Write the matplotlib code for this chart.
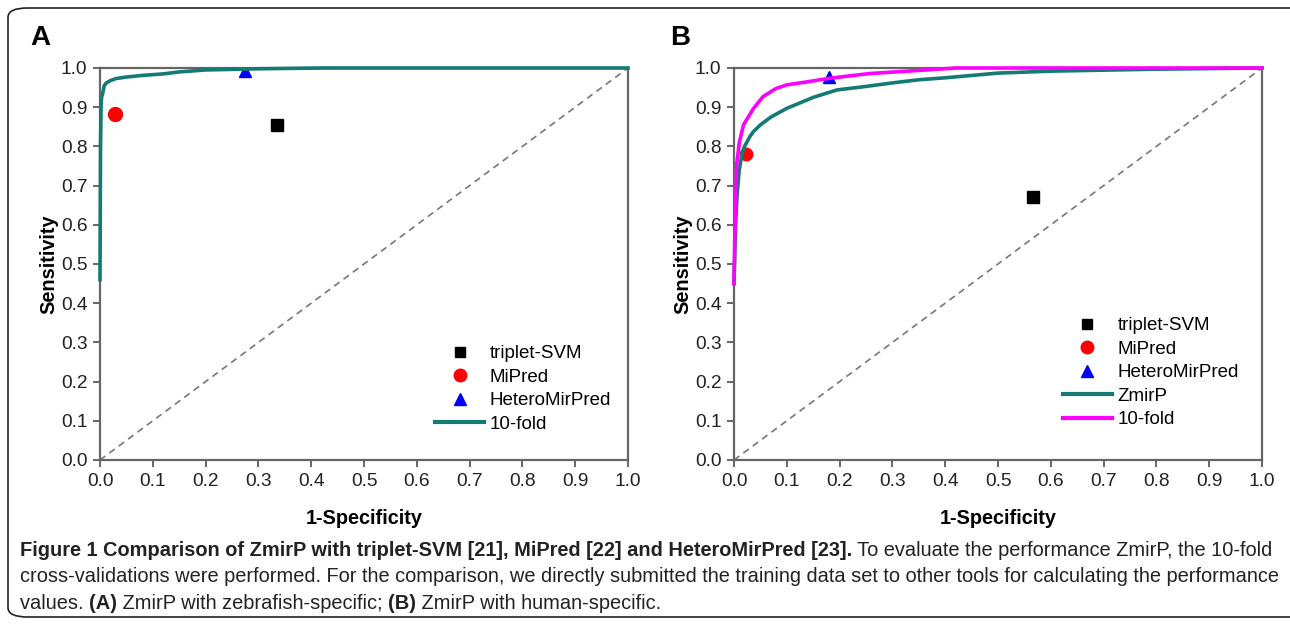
import numpy as np
import matplotlib.pyplot as plt
from matplotlib.patches import FancyBboxPatch
from matplotlib.lines import Line2D
from matplotlib.text import Annotation

plt.rcParams['font.family'] = ['Liberation Sans', 'DejaVu Sans']

# ---- данные ----
ticks = [0.0, 0.1, 0.2, 0.3, 0.4, 0.5, 0.6, 0.7, 0.8, 0.9, 1.0]
tick_labels = ['0.0', '0.1', '0.2', '0.3', '0.4', '0.5', '0.6', '0.7', '0.8', '0.9', '1.0']

# панель A (zebrafish)
a_fold_x = [0.0, 0.001, 0.002, 0.003, 0.005, 0.008, 0.012, 0.02, 0.03, 0.05, 0.08,
            0.12, 0.15, 0.2, 0.3, 0.42, 1.0]
a_fold_y = [0.46, 0.80, 0.90, 0.925, 0.935, 0.955, 0.962, 0.968, 0.973, 0.977, 0.981,
            0.985, 0.99, 0.995, 0.998, 1.0, 1.0]
a_svm = (0.335, 0.855)
a_mipred = (0.028, 0.883)
a_hetero = (0.275, 0.993)

# панель B (human)
b_zmirp_x = [0.0, 0.003, 0.006, 0.01, 0.015, 0.02, 0.03, 0.037, 0.05, 0.07, 0.1, 0.15,
             0.195, 0.25, 0.3, 0.35, 0.4, 0.5, 0.6, 0.8, 1.0]
b_zmirp_y = [0.45, 0.60, 0.68, 0.74, 0.78, 0.80, 0.825, 0.838, 0.855, 0.875, 0.897, 0.925,
             0.944, 0.953, 0.962, 0.97, 0.975, 0.987, 0.992, 0.997, 1.0]
b_fold_x = [0.0, 0.002, 0.005, 0.01, 0.018, 0.037, 0.055, 0.08, 0.1, 0.14, 0.182, 0.258,
            0.352, 0.42, 1.0]
b_fold_y = [0.45, 0.60, 0.753, 0.81, 0.855, 0.897, 0.927, 0.948, 0.957, 0.965, 0.974, 0.986,
            0.994, 1.0, 1.0]
b_svm = (0.567, 0.672)
b_mipred = (0.022, 0.78)
b_hetero = (0.18, 0.978)

TEAL = '#137a75'
MAGENTA = '#ff00ff'
GRAY = '#666666'
FS = 13.8

fig = plt.figure(figsize=(12.9, 6.25), dpi=100)

# рамка вокруг всего рисунка
fig.patches.append(FancyBboxPatch((8 / 1290, 8 / 625), 1.1, 1 - 16 / 625,
                                  boxstyle='round,pad=0,rounding_size=0.015',
                                  transform=fig.transFigure, fill=False,
                                  edgecolor='#222222', linewidth=1.2, clip_on=False))


def setup(ax):
    ax.set_xlim(0, 1)
    ax.set_ylim(0, 1)
    ax.set_xticks(ticks)
    ax.set_xticklabels(tick_labels)
    ax.set_yticks(ticks)
    ax.set_yticklabels(tick_labels)
    for s in ax.spines.values():
        s.set_color(GRAY)
        s.set_linewidth(1.6)
    ax.tick_params(direction='out', length=5, width=1.4, color=GRAY,
                   labelsize=FS, labelcolor='#222222', pad=4)
    ax.plot([0, 1], [0, 1], ls=(0, (4, 3)), color='#777777', lw=1.2, zorder=1)
    ax.set_xlabel('1-Specificity', fontsize=14.3, fontweight='bold', labelpad=14)
    ax.set_ylabel('Sensitivity', fontsize=14.3, fontweight='bold', labelpad=2)


leg_kw = dict(loc='upper left', frameon=False, fontsize=13.5, handlelength=2.6,
              handletextpad=0.3, labelspacing=0.34, borderaxespad=0)

ax1 = fig.add_axes([100 / 1290, 1 - 460 / 625, 528 / 1290, 392 / 625])
setup(ax1)
ax1.plot(*a_svm, 's', color='black', ms=8.5, clip_on=False, zorder=3)
ax1.plot(*a_mipred, 'o', color='red', ms=10, clip_on=False, zorder=3)
ax1.plot(*a_hetero, '^', color='blue', ms=9, clip_on=True, zorder=2)
ax1.plot(a_fold_x, a_fold_y, color=TEAL, lw=2.6, clip_on=False, zorder=4)
h1 = [Line2D([], [], ls='', marker='s', color='black', ms=7),
      Line2D([], [], ls='', marker='o', color='red', ms=9),
      Line2D([], [], ls='', marker='^', color='blue', ms=9),
      Line2D([], [], color=TEAL, lw=3)]
ax1.legend(h1, ['triplet-SVM', 'MiPred', 'HeteroMirPred', '10-fold'],
           bbox_to_anchor=(0.621, 0.312), **leg_kw)
fig.text(40 / 1290, 1 - 38 / 625, 'A', fontsize=20, fontweight='bold', va='center', ha='center')

ax2 = fig.add_axes([734 / 1290, 1 - 460 / 625, 528 / 1290, 392 / 625])
setup(ax2)
ax2.plot(*b_svm, 's', color='black', ms=8.5, zorder=3)
ax2.plot(*b_hetero, '^', color='blue', ms=8, zorder=2)
ax2.plot(b_zmirp_x, b_zmirp_y, color=TEAL, lw=2.6, clip_on=False, zorder=4)
ax2.plot(*b_mipred, 'o', color='red', ms=9, zorder=3)
ax2.plot(b_fold_x, b_fold_y, color=MAGENTA, lw=2.6, clip_on=False, zorder=5)
h2 = [Line2D([], [], ls='', marker='s', color='black', ms=7),
      Line2D([], [], ls='', marker='o', color='red', ms=9),
      Line2D([], [], ls='', marker='^', color='blue', ms=9),
      Line2D([], [], color=TEAL, lw=3),
      Line2D([], [], color=MAGENTA, lw=3)]
ax2.legend(h2, ['triplet-SVM', 'MiPred', 'HeteroMirPred', 'ZmirP', '10-fold'],
           bbox_to_anchor=(0.609, 0.383), **leg_kw)
fig.text(680 / 1290, 1 - 38 / 625, 'B', fontsize=20, fontweight='bold', va='center', ha='center')

# подпись к рисунку: жирные и обычные куски подряд
cap_font = dict(fontsize=14.4, color='#222222')
lines = [
    [('Figure 1 Comparison of ZmirP with triplet-SVM [21], MiPred [22] and HeteroMirPred [23].', 'bold'),
     (' To evaluate the performance ZmirP, the 10-fold', 'normal')],
    [('cross-validations were performed. For the comparison, we directly submitted the training data set to other tools for calculating the performance', 'normal')],
    [('values. ', 'normal'), ('(A)', 'bold'), (' ZmirP with zebrafish-specific; ', 'normal'),
     ('(B)', 'bold'), (' ZmirP with human-specific.', 'normal')],
]
bottoms = [560, 586, 613]
for parts, yb in zip(lines, bottoms):
    prev = None
    for txt, w in parts:
        if prev is None:
            prev = fig.text(20 / 1290, 1 - yb / 625, txt, fontweight=w, va='bottom', **cap_font)
        else:
            a = Annotation(txt, xy=(1, 0), xycoords=prev, va='bottom', ha='left',
                           fontweight=w, **cap_font)
            fig.add_artist(a)
            prev = a

plt.savefig('out.png', dpi=100)
